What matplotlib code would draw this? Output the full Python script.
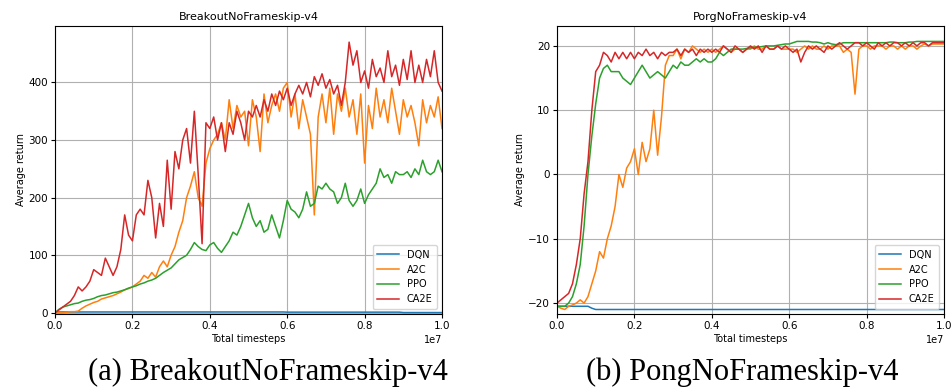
import numpy as np
import matplotlib
matplotlib.use("Agg")
import matplotlib.pyplot as plt

# timesteps (in units of 1e7), step 0.01
steps = np.round(np.arange(0, 101) * 0.01, 2) * 1e7
labels = ["DQN", "A2C", "PPO", "CA2E"]

# --- Breakout ---
breakout_dqn = [1.5] * 60 + [1.2] * 30 + [0.5] * 11
breakout_a2c = [0, 0, 0, 1, 2, 2, 3, 8, 12, 15,
                18, 20, 24, 26, 28, 30, 33, 36, 40, 42,
                45, 50, 55, 65, 60, 70, 62, 80, 90, 80,
                100, 115, 140, 160, 200, 220, 245, 200, 185, 260,
                285, 300, 310, 330, 300, 370, 320, 360, 340, 350,
                290, 370, 340, 280, 380, 330, 360, 380, 350, 390,
                400, 340, 380, 320, 370, 340, 310, 170, 340, 380,
                330, 390, 310, 380, 350, 390, 340, 370, 310, 380,
                260, 360, 320, 390, 340, 370, 330, 390, 350, 310,
                370, 340, 360, 330, 290, 370, 330, 360, 340, 375,
                320]
breakout_ppo = [0, 6, 10, 12, 14, 16, 17, 20, 22, 23,
                25, 28, 30, 31, 33, 35, 36, 38, 40, 43,
                45, 47, 50, 52, 55, 57, 60, 65, 70, 74,
                78, 85, 92, 96, 100, 110, 122, 115, 110, 108,
                118, 122, 112, 105, 115, 125, 140, 135, 150, 170,
                190, 165, 150, 160, 140, 145, 170, 150, 130, 160,
                195, 180, 175, 165, 180, 210, 185, 190, 220, 215,
                225, 215, 210, 190, 200, 225, 195, 185, 195, 215,
                190, 205, 215, 225, 250, 235, 240, 225, 245, 240,
                240, 245, 235, 250, 240, 265, 245, 240, 245, 265,
                245]
breakout_ca2e = [0, 5, 10, 15, 20, 30, 45, 38, 45, 55,
                 75, 70, 65, 95, 80, 65, 80, 110, 170, 135,
                 125, 170, 180, 170, 230, 200, 130, 190, 150, 265,
                 180, 280, 250, 300, 320, 260, 350, 240, 120, 330,
                 320, 340, 300, 330, 280, 330, 310, 350, 330, 300,
                 350, 340, 360, 340, 370, 350, 380, 360, 385, 370,
                 390, 360, 380, 395, 380, 400, 375, 410, 395, 415,
                 390, 405, 380, 395, 360, 400, 470, 430, 455, 400,
                 420, 390, 440, 410, 425, 400, 455, 410, 430, 395,
                 440, 405, 455, 400, 430, 400, 440, 410, 455, 400,
                 385]

# --- Pong ---
pong_dqn = [-20.5] * 9 + [-20.8] + [-21] * 91
pong_a2c = [-20.5, -20.8, -21, -20.5, -20.3, -20, -19.5, -20, -19, -17,
            -15, -12, -13, -10, -8, -5, 0, -2, 1, 2,
            4, 0, 5, 2, 4, 10, 3, 9, 17, 18.5,
            18.5, 19.5, 18, 19.5, 19, 20, 19.5, 19, 19.5, 19,
            19.5, 19, 19.5, 20, 19.5, 19, 19.5, 19.5, 19, 19.5,
            19.5, 20, 19.5, 19.5, 20, 19.5, 19.5, 20, 19.5, 19.5,
            19.5, 19.5, 19, 19.5, 20, 19.5, 20, 19.5, 19.5, 20,
            19.5, 20, 20, 20, 19, 19.5, 19, 12.5, 19.5, 20,
            20, 19.5, 20, 20, 20, 19.5, 20, 20, 19.5, 20,
            19.5, 20, 20, 19.5, 20, 20.3, 20, 20.3, 20.3, 20.3,
            20.3]
pong_ppo = [-20.5, -20.5, -20.5, -20, -19, -17, -14, -8, 0, 6,
            11, 15, 16.5, 17, 16, 16, 16, 15, 14.5, 14,
            15, 16, 17, 16, 15, 15.5, 16, 15.5, 15, 16,
            17, 16.5, 17.5, 17, 17, 17.5, 18, 17.5, 18, 17.5,
            17.5, 18, 19, 18.5, 19, 19.5, 19.5, 19.5, 19.5, 19.6,
            19.7, 19.8, 19.8, 19.9, 20, 20, 20, 20.1, 20.2, 20.3,
            20.3, 20.5, 20.7, 20.7, 20.7, 20.7, 20.6, 20.6, 20.5, 20.3,
            20.5, 20.3, 20.2, 20.3, 20.5, 20.5, 20.5, 20.5, 20.5, 20.5,
            20.5, 20.5, 20.5, 20.5, 20.5, 20.5, 20.6, 20.6, 20.5, 20.5,
            20.5, 20.6, 20.6, 20.7, 20.7, 20.7, 20.7, 20.7, 20.7, 20.7,
            20.7]
pong_ca2e = [-20, -19.5, -19, -18.5, -17, -14, -10, -3, 2, 10,
             16, 17, 19, 18.5, 17.5, 19, 18, 19, 18, 19,
             18, 19, 18.5, 19.5, 18.5, 19, 18, 19, 18.5, 19,
             19, 19.5, 18.5, 19.5, 19, 19.5, 18.5, 19.5, 19, 19.5,
             19, 19.5, 19, 20, 19.5, 19, 20, 19.5, 19, 19.5,
             20, 19.5, 20, 19, 20, 19.5, 19.5, 20, 19.5, 20,
             19.5, 19, 19.5, 17.5, 19, 20, 19.5, 20, 19.5, 19,
             20, 19.5, 20, 20.5, 20, 19.5, 20, 20.5, 20.5, 20,
             20.5, 20, 19.5, 20.5, 20, 20.5, 20, 20.5, 20.5, 20,
             20.5, 20, 20.5, 20, 20.5, 20.5, 20, 20.5, 20.5, 20.5,
             20.5]

fig = plt.figure(figsize=(9.52, 3.92), dpi=100)
ax1 = fig.add_axes([0.0578, 0.199, 0.4065, 0.7347])
ax2 = fig.add_axes([0.5851, 0.199, 0.4065, 0.7347])

panels = [
    (ax1, "BreakoutNoFrameskip-v4",
     [breakout_dqn, breakout_a2c, breakout_ppo, breakout_ca2e], (-2, 498), [0, 100, 200, 300, 400]),
    (ax2, "PorgNoFrameskip-v4",
     [pong_dqn, pong_a2c, pong_ppo, pong_ca2e], (-21.7, 23.1), [-20, -10, 0, 10, 20]),
]

for ax, title, series, ylim, yticks in panels:
    for i, (vals, lab) in enumerate(zip(series, labels)):
        ax.plot(steps, vals, color="C%d" % i, lw=1.1, label=lab)
    ax.set_xlim(0, 1e7)
    ax.set_ylim(*ylim)
    ax.set_yticks(yticks)
    ax.set_xticks(np.arange(0, 1.01, 0.2) * 1e7)
    ax.grid(True, color="#b0b0b0", lw=0.8)
    ax.set_title(title, fontsize=8, pad=4)
    ax.set_xlabel("Total timesteps", fontsize=7, labelpad=2)
    ax.set_ylabel("Average return", fontsize=7, labelpad=2)
    ax.tick_params(labelsize=7.5, length=3, pad=2)
    ax.xaxis.get_offset_text().set_fontsize(7)
    ax.legend(loc="lower right", fontsize=7, handlelength=2.2, borderpad=0.5)

fig.text(268 / 952, 1 - 372 / 392, "(a) BreakoutNoFrameskip-v4", ha="center", va="center",
         fontsize=22, family="Liberation Serif")
fig.text(742 / 952, 1 - 372 / 392, "(b) PongNoFrameskip-v4", ha="center", va="center",
         fontsize=22, family="Liberation Serif")

fig.savefig("out.png", dpi=100)
